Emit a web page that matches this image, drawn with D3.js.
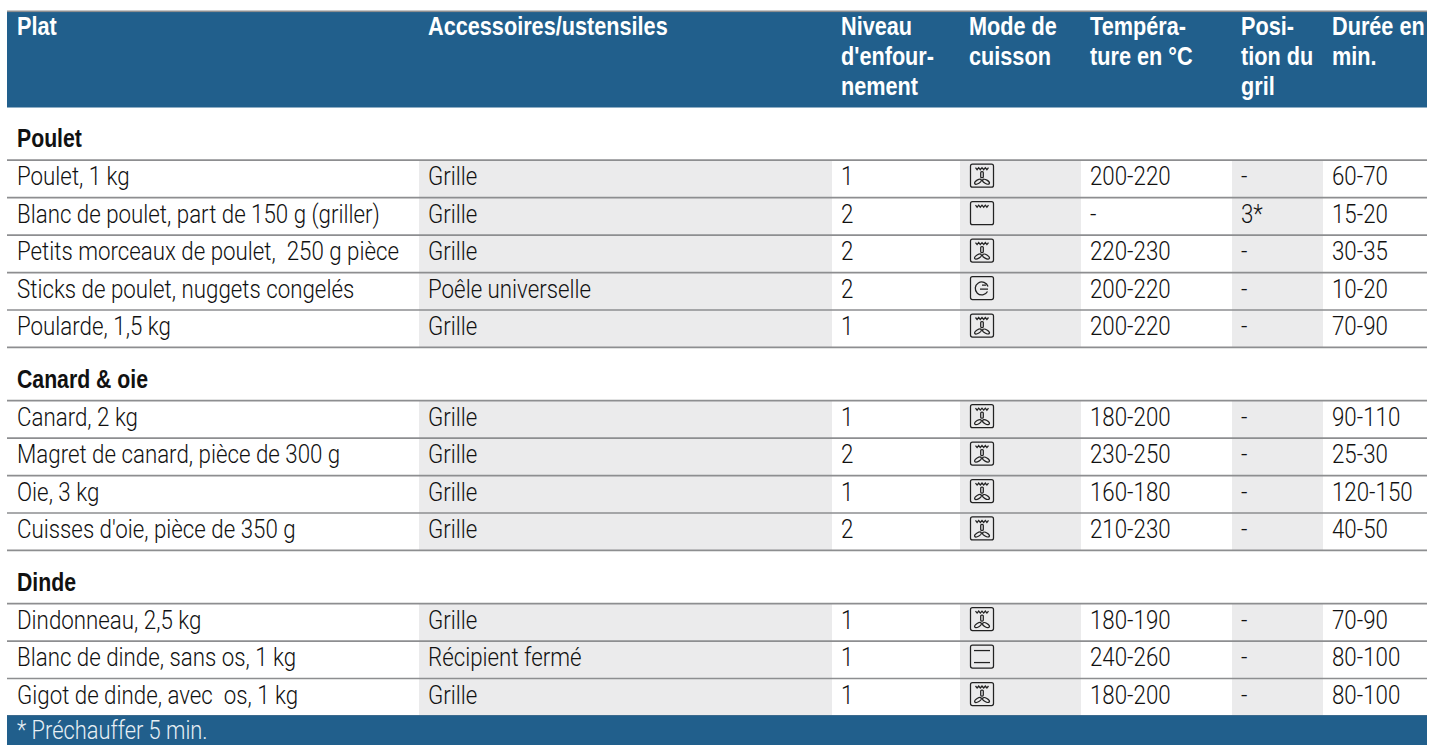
<!DOCTYPE html>
<html><head><meta charset="utf-8">
<script src="https://cdn.jsdelivr.net/npm/d3@7/dist/d3.min.js"></script>
<style>html,body{margin:0;padding:0;background:#fff}svg{display:block}</style>
</head><body><svg id="c" width="1434" height="745"></svg>
<script>
const headers=[["Plat"],["Accessoires/ustensiles"],["Niveau","d'enfour-","nement"],["Mode de","cuisson"],["Tempéra-","ture en °C"],["Posi-","tion du","gril"],["Durée en","min."]];
const sections=["Poulet","Canard & oie","Dinde"];
const dishes=[
["Poulet, 1 kg","Blanc de poulet, part de 150 g (griller)","Petits morceaux de poulet,  250 g pièce","Sticks de poulet, nuggets congelés","Poularde, 1,5 kg"],
["Canard, 2 kg","Magret de canard, pièce de 300 g","Oie, 3 kg","Cuisses d'oie, pièce de 350 g"],
["Dindonneau, 2,5 kg","Blanc de dinde, sans os, 1 kg","Gigot de dinde, avec  os, 1 kg"]];
const accessories=[["Grille","Grille","Grille","Poêle universelle","Grille"],["Grille","Grille","Grille","Grille"],["Grille","Récipient fermé","Grille"]];
const levels=[[1,2,2,2,1],[1,2,1,2],[1,1,1]];
const modes=[["fan","top","fan","hot","fan"],["fan","fan","fan","fan"],["fan","both","fan"]];
const temps=[["200-220","-","220-230","200-220","200-220"],["180-200","230-250","160-180","210-230"],["180-190","240-260","180-200"]];
const grill=[["-","3*","-","-","-"],["-","-","-","-"],["-","-","-"]];
const times=[["60-70","15-20","30-35","10-20","70-90"],["90-110","25-30","120-150","40-50"],["70-90","80-100","80-100"]];
const footnote="* Préchauffer 5 min.";
const columnEdges=[7,419,832,960,1081,1232,1323,1427];
const columns=[0,1,2,3,4,5,6];

const BLUE="#215f8c",SHADE="#ebebec",RULE="#8d8e90";
const svg=d3.select("#c");
const x=d3.scaleOrdinal().domain(columns).range(columnEdges.slice(0,7));
const xEnd=d3.scaleOrdinal().domain(columns).range(columnEdges.slice(1));
const pad=d=>d===0?10:9;
const y=d3.scaleLinear().domain([0,1]).range([160.2,197.65]);
const sectionGap=1.42;
const layout=[];let u=0;
sections.forEach((s,i)=>{
  const start=u;
  dishes[i].forEach((d,j)=>{
    layout.push({top:u,cells:[d,accessories[i][j],levels[i][j],null,temps[i][j],grill[i][j],times[i][j]],mode:modes[i][j]});
    u+=1;
  });
  layout.push({section:s,line:start});
  u+=sectionGap;
});
const bottom=u-sectionGap;
const blocks=[[0,5],[5+sectionGap,9+sectionGap],[9+2*sectionGap,12+2*sectionGap]];

function label(g,tx,ty,str,o){
  g.append("text").attr("transform",`translate(${tx},${ty}) scale(${o.sx},1)`)
   .attr("font-family",o.family).attr("font-size",o.size).attr("font-weight",o.weight).attr("fill",o.fill)
   .attr("xml:space","preserve").style("white-space","pre").text(str);
}
const HEAD={family:"Liberation Sans",size:25.5,weight:"bold",sx:0.85,fill:"#fff"};
const SECT={family:"Liberation Sans",size:25,weight:"bold",sx:0.85,fill:"#111"};
const BODY={family:"Roboto",size:26,weight:300,sx:0.858,fill:"#111"};
const FOOT={family:"Roboto",size:26,weight:300,sx:0.84,fill:"#e8f0f5"};
// header
svg.append("rect").attr("x",x(0)).attr("y",12).attr("width",xEnd(6)-x(0)).attr("height",95.5).attr("fill",BLUE);
svg.append("rect").attr("x",x(0)).attr("y",10.5).attr("width",xEnd(6)-x(0)).attr("height",1.6).attr("fill",RULE);
const hg=svg.append("g");
headers.forEach((lines,c)=>lines.forEach((t,k)=>label(hg,x(c)+pad(c),35+k*30,t,HEAD)));
// shaded columns
blocks.forEach(([a,b])=>[1,3,5].forEach(c=>{
  svg.append("rect").attr("x",x(c)).attr("y",y(a)).attr("width",xEnd(c)-x(c)).attr("height",y(b)-y(a)).attr("fill",SHADE);
}));
// rules
blocks.forEach(([a,b])=>d3.range(a,b+0.01,1).forEach(v=>{
  if(v===b&&b===bottom)return;
  svg.append("line").attr("x1",x(0)).attr("x2",xEnd(6)).attr("y1",y(v)).attr("y2",y(v)).attr("stroke",RULE).attr("stroke-width",1.7);
}));
// footer
svg.append("rect").attr("x",x(0)).attr("y",y(bottom)-0.7).attr("width",xEnd(6)-x(0)).attr("height",745-y(bottom)+0.7).attr("fill",BLUE);
label(svg,17,739,footnote,FOOT);

function icon(g,cx,cy,kind){
  const n=g.append("g").attr("transform",`translate(${cx},${cy})`).attr("fill","none").attr("stroke","#222").attr("stroke-width",1.25);
  n.append("rect").attr("x",-11.5).attr("y",-11.5).attr("width",23).attr("height",23).attr("rx",2);
  const wave="M-6.5,-8l1.6,2l1.6,-2l1.6,2l1.7,-2l1.7,2l1.6,-2l1.6,2l1.6,-2";
  if(kind==="fan"||kind==="top")n.append("path").attr("d",wave);
  if(kind==="fan"){
    n.append("rect").attr("x",-1.3).attr("y",-4).attr("width",2.6).attr("height",6).attr("rx",1);
    n.append("ellipse").attr("rx",3.8).attr("ry",1.8).attr("transform","translate(-4,6) rotate(-30)");
    n.append("ellipse").attr("rx",3.8).attr("ry",1.8).attr("transform","translate(4,6) rotate(30)");
  }
  if(kind==="both"){
    n.append("line").attr("x1",-8).attr("x2",8).attr("y1",-6).attr("y2",-6);
    n.append("line").attr("x1",-8).attr("x2",8).attr("y1",6).attr("y2",6);
  }
  if(kind==="hot"){
    n.append("path").attr("d","M6,-1.5A6.5,6.5 0 1 0 5.5,3.5").attr("stroke-width",1.3);
    n.append("path").attr("d","M-2,1L6,1M0,-3L4,-3");
  }
}
const body=svg.append("g");
layout.forEach(r=>{
  if(r.section){
    label(body,17,y(r.line)-13,r.section,SECT);
    return;
  }
  const base=y(r.top)+25;
  r.cells.forEach((v,c)=>{
    if(v===null)return;
    label(body,x(c)+pad(c),base,String(v),BODY);
  });
  icon(body,x(3)+22,y(r.top)+15.5,r.mode);
});
</script></body></html>
